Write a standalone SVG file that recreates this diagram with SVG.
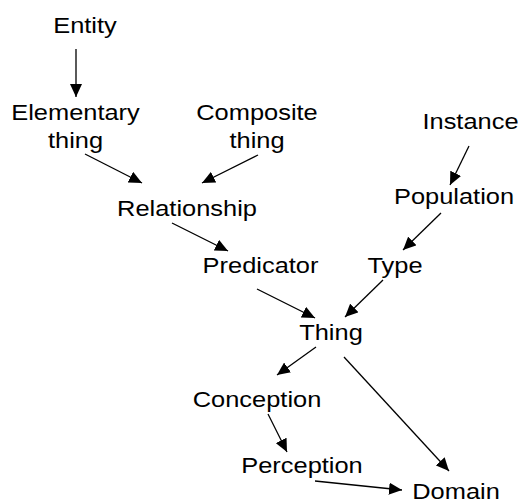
<svg xmlns="http://www.w3.org/2000/svg" width="522" height="503" viewBox="0 0 522 503">
<style>
.t{font-family:"Liberation Sans",Arial,sans-serif;font-size:22.5px;text-anchor:middle;fill:#000}
.c line{stroke:#000;stroke-width:1.3;marker-end:url(#ah)}
</style>
<defs>
<marker id="ah" markerUnits="userSpaceOnUse" markerWidth="14" markerHeight="12" refX="13" refY="6" orient="auto" viewBox="0 0 14 12">
<path d="M0,0 L13,6 L0,12 z" fill="#000"/>
</marker>
</defs>
<rect width="522" height="503" fill="#fff"/>
<g id="entity" transform="translate(85,33) scale(1.13,1)"><text class="t">Entity</text></g>
<g id="elementary" transform="translate(75.5,120) scale(1.13,1)"><text class="t">Elementary</text><text class="t" y="28">thing</text></g>
<g id="composite" transform="translate(257,120) scale(1.13,1)"><text class="t">Composite</text><text class="t" y="28">thing</text></g>
<g id="instance" transform="translate(470.5,129) scale(1.13,1)"><text class="t">Instance</text></g>
<g id="relationship" transform="translate(187,216) scale(1.13,1)"><text class="t">Relationship</text></g>
<g id="population" transform="translate(454,204) scale(1.13,1)"><text class="t">Population</text></g>
<g id="predicator" transform="translate(260.5,273) scale(1.13,1)"><text class="t">Predicator</text></g>
<g id="type" transform="translate(395,273) scale(1.13,1)"><text class="t">Type</text></g>
<g id="thing" transform="translate(331,340) scale(1.13,1)"><text class="t">Thing</text></g>
<g id="conception" transform="translate(257,407) scale(1.13,1)"><text class="t">Conception</text></g>
<g id="perception" transform="translate(302,473) scale(1.13,1)"><text class="t">Perception</text></g>
<g id="domain" transform="translate(456,499) scale(1.13,1)"><text class="t">Domain</text></g>
<g id="connectors" class="c">
<line x1="76" y1="49" x2="76" y2="97"/>
<line x1="85" y1="154" x2="142" y2="183"/>
<line x1="258" y1="155" x2="202" y2="183"/>
<line x1="469" y1="146" x2="450" y2="185"/>
<line x1="441" y1="213" x2="403" y2="250"/>
<line x1="172" y1="223" x2="228" y2="251"/>
<line x1="257" y1="289" x2="315" y2="318"/>
<line x1="383" y1="280" x2="345" y2="317"/>
<line x1="316" y1="347" x2="277" y2="375"/>
<line x1="344" y1="357" x2="449" y2="471"/>
<line x1="268" y1="414" x2="287" y2="452"/>
<line x1="315" y1="481" x2="402" y2="490"/>
</g>
</svg>
